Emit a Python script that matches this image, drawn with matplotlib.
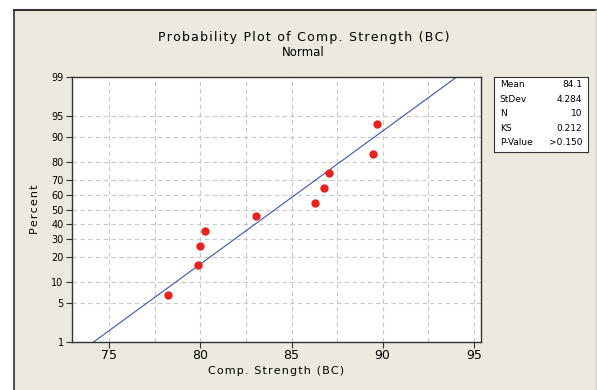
import numpy as np
import matplotlib
matplotlib.use('Agg')
from matplotlib import pyplot as plt
from matplotlib.patches import Rectangle
from matplotlib.lines import Line2D
from statistics import NormalDist

#%% DATOS

strength = [78.23, 79.86, 79.97, 80.24, 83.04, 86.29, 86.78, 87.05, 89.45, 89.67]
percent = [6.7, 16.3, 26.0, 35.6, 45.2, 54.8, 64.4, 74.0, 83.7, 93.3]

mean = 84.1
stdev = 4.284
fit_pct = [1, 99]

stats_names = ['Mean', 'StDev', 'N', 'KS', 'P-Value']
stats_vals = ['84.1', '4.284', '10', '0.212', '>0.150']

yticks = [1, 5, 10, 20, 30, 40, 50, 60, 70, 80, 90, 95, 99]
xticks = [75, 80, 85, 90, 95]

titulo = 'Probability Plot of Comp. Strength (BC)'
xlab = 'Comp. Strength (BC)'
ylab = 'Percent'

#%% ESCALA NORMAL

nd = NormalDist()
_ppf = np.vectorize(lambda v: nd.inv_cdf(v / 100), otypes=[float])
_cdf = np.vectorize(lambda v: nd.cdf(v) * 100, otypes=[float])

def fwd(p):
    p = np.clip(np.asarray(p, dtype=float), 1e-6, 100 - 1e-6)
    return _ppf(p)

def inv(z):
    return _cdf(np.asarray(z, dtype=float))

def espaciado(s):
    # letras separadas con hair space, como en Minitab
    return '\u200a'.join(s)

fit = NormalDist(mean, stdev)
fit_x = [fit.inv_cdf(p / 100) for p in fit_pct]

#%% FIGURA

W, H = 597, 390
bg = '#ECE9DF'
fig = plt.figure(figsize=(W / 100, H / 100), dpi=100, facecolor='white')

fig.add_artist(Rectangle((14 / W, 0), 1 - 14 / W, 1 - 10 / H, transform=fig.transFigure,
                         facecolor=bg, edgecolor='none', zorder=-10))
fig.add_artist(Line2D([13.5 / W, 13.5 / W], [0, 1 - 9.5 / H], transform=fig.transFigure,
                      color='#555555', lw=1.5, zorder=-5))
fig.add_artist(Line2D([13.5 / W, 1], [1 - 9.5 / H, 1 - 9.5 / H], transform=fig.transFigure,
                      color='#333333', lw=1.5, zorder=-5))
fig.add_artist(Line2D([595.5 / W, 595.5 / W], [0, 1 - 9.5 / H], transform=fig.transFigure,
                      color='#d4d0c8', lw=1, zorder=-5))

ax = fig.add_axes([72 / W, 48 / H, 409 / W, 265 / H])
ax.set_facecolor('white')
ax.set_yscale('function', functions=(fwd, inv))
ax.set_ylim(1, 99)
ax.set_xlim(72.95, 95.4)

for xg in np.arange(75, 95.1, 2.5):
    ax.axvline(xg, color='#c8c8c8', lw=0.8, dashes=(4, 3), zorder=1)
for yg in yticks[1:-1]:
    ax.axhline(yg, color='#c8c8c8', lw=0.8, dashes=(4, 3), zorder=1)

ax.plot(fit_x, fit_pct, color='#3a55b0', lw=0.8, zorder=2)
ax.plot(strength, percent, 'o', color='#e8221e', markersize=6, markeredgewidth=0, zorder=3)

ax.set_yticks(yticks)
ax.set_yticklabels([str(v) for v in yticks])
ax.yaxis.set_minor_locator(matplotlib.ticker.NullLocator())
ax.set_xticks(xticks)
ax.tick_params(axis='y', labelsize=7, length=4, width=0.8, color='#333333', pad=2)
ax.tick_params(axis='x', labelsize=9, length=4, width=0.8, color='#333333', pad=1)
for s in ax.spines.values():
    s.set_color('#333333')
    s.set_linewidth(1)

ax.set_xlabel(espaciado(xlab), fontsize=8, labelpad=3)
ax.set_ylabel(espaciado(ylab), fontsize=8, labelpad=8)

fig.text(304 / W, 1 - 38 / H, espaciado(titulo), ha='center', va='center', fontsize=9)
fig.text(303 / W, 1 - 53 / H, 'Normal', ha='center', va='center', fontsize=8.5)

#%% CUADRO

box = fig.add_axes([494 / W, 1 - 152 / H, 94 / W, 75 / H])
box.set_facecolor('white')
box.set_xticks([])
box.set_yticks([])
for s in box.spines.values():
    s.set_color('#333333')
    s.set_linewidth(0.8)
for i, (nm, vl) in enumerate(zip(stats_names, stats_vals)):
    yy = 1 - (i + 0.55) / 5.2
    box.text(0.06, yy, nm, transform=box.transAxes, ha='left', va='center', fontsize=6.5)
    box.text(0.94, yy, vl, transform=box.transAxes, ha='right', va='center', fontsize=6.5)

fig.savefig('out.png', dpi=100, facecolor=fig.get_facecolor())
